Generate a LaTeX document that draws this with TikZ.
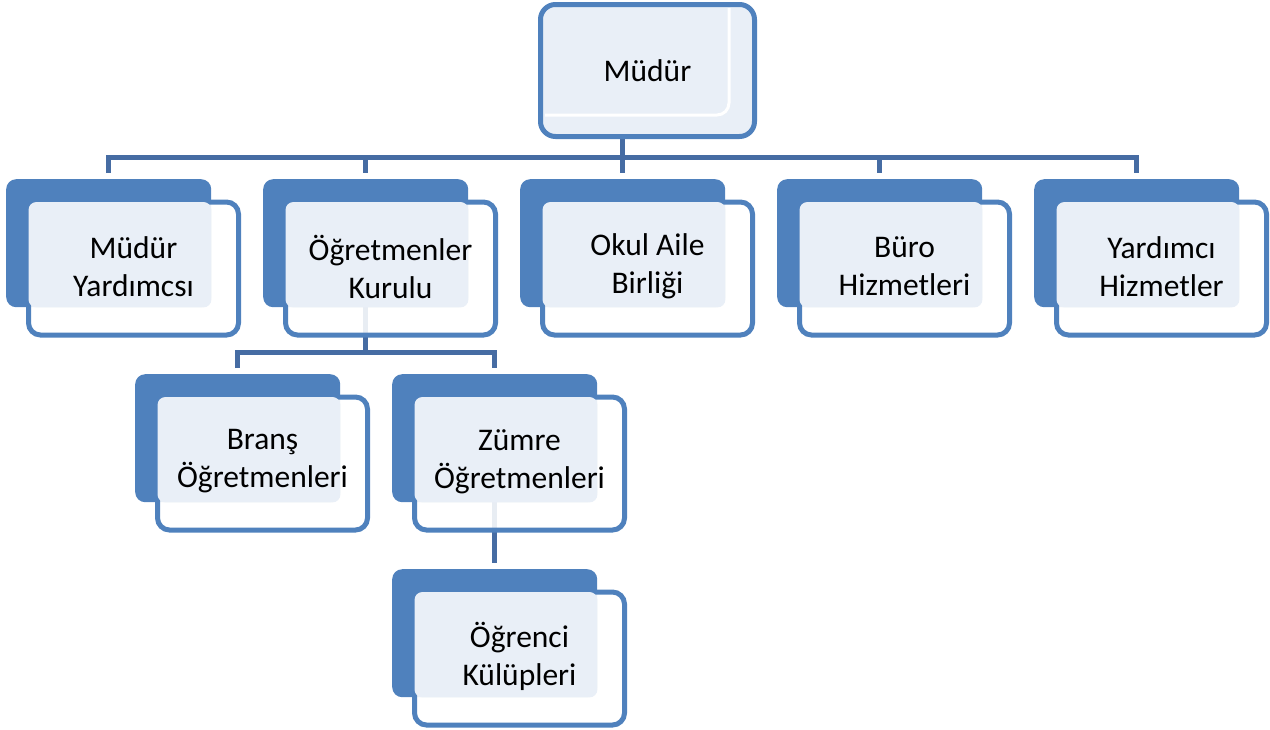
\documentclass[tikz,border=0pt]{standalone}
\usepackage{fontspec}
\setmainfont{Carlito}
\usetikzlibrary{calc,backgrounds}
\definecolor{boxblue}{RGB}{79,129,189}
\definecolor{lineblue}{RGB}{70,108,163}
\definecolor{paleblue}{RGB}{233,239,247}
\tikzset{
  backS/.style ={fill=boxblue, minimum width=205pt, minimum height=128pt, inner sep=0pt, rounded corners=10pt, anchor=north west},
  frontS/.style={draw=boxblue, line width=5pt, fill=white, fill opacity=0.88, minimum width=210pt, minimum height=133pt, inner sep=0pt, rounded corners=12pt},
  paleS/.style ={fill=paleblue, rounded corners=8pt},
  headS/.style ={draw=boxblue, line width=5pt, fill=paleblue, minimum width=214pt, minimum height=132pt, inner sep=0pt, rounded corners=15pt},
  txtS/.style  ={align=center, font=\fontsize{31.5}{38}\selectfont, text=black},
  connS/.style ={draw=lineblue, line width=5pt},
}
% back box at (x,y) = top left corner, front box and pale face on top
\newcommand{\orgbox}[4]{%
  \node[backS] (#1) at (#2,#3) {};
  \node[frontS, anchor=north west] (#1f) at ($(#1.north west)+(20,20.5)$) {};
  \fill[paleS] ($(#1f.north west)+(2.5,2.5)$) rectangle (#1.south east);
  \node[txtS] (#1t) at ($(#1f)+(0,-2)$) {#4};
}

\begin{document}
\begin{tikzpicture}[x=1pt, y=-1pt]
  \useasboundingbox (0,0) rectangle (1270,729);
  % top
  \node[headS, txtS] (mdr) at (647.5,70.5) {Müdür};
  \draw[white, line width=3pt, rounded corners=12pt] (729,8) -- (729,115) -- (545,115);
  % first row
  \orgbox{myard}{6}{179}{Müdür\\Yardımcsı}
  \orgbox{ogrk}{263}{179}{Öğretmenler\\Kurulu}
  \orgbox{okul}{520}{179}{Okul Aile\\Birliği}
  \orgbox{buro}{777}{179}{Büro\\Hizmetleri}
  \orgbox{yhiz}{1034}{179}{Yardımcı\\Hizmetler}
  % second and third row
  \orgbox{brans}{135}{374}{Branş\\Öğretmenleri}
  \orgbox{zumre}{392}{374}{Zümre\\Öğretmenleri}
  \orgbox{kulup}{392}{569}{Öğrenci\\Külüpleri}
  % connectors
  \begin{scope}[on background layer]
    \coordinate (bar1) at (0,157);
    \coordinate (bar2) at (0,352);
    \draw[connS] ($(myard.north)+(0,-6)$) |- (yhiz |- bar1) -- ($(yhiz.north)+(0,-6)$);
    \draw[connS] (mdr.south -| okul) -- ($(okul.north)+(0,-6)$);
    \draw[connS] (ogrk |- bar1) -- ($(ogrk.north)+(0,-6)$);
    \draw[connS] (buro |- bar1) -- ($(buro.north)+(0,-6)$);
    \draw[connS] (ogrk.south) -- (ogrk |- bar2);
    \draw[connS] ($(brans.north)+(0,-6)$) |- (zumre |- bar2) -- ($(zumre.north)+(0,-6)$);
    \draw[connS] (zumre.south) -- ($(kulup.north)+(0,-6)$);
  \end{scope}
\end{tikzpicture}
\end{document}
